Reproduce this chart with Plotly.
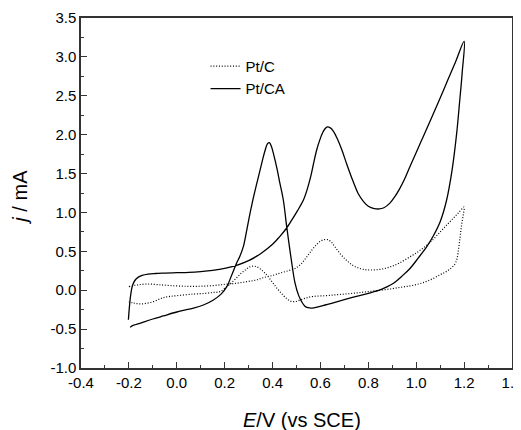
import plotly.graph_objects as go

# Pt/CA (solid) - forward then reverse scan
ptca_E = [-0.202, -0.198, -0.192, -0.185, -0.175, -0.162, -0.145, -0.12, -0.09, -0.05, 0.0, 0.05, 0.10, 0.15, 0.20, 0.25, 0.30, 0.35, 0.40, 0.43, 0.459, 0.48, 0.50, 0.515, 0.529, 0.545, 0.56, 0.572, 0.584, 0.597, 0.61, 0.62, 0.629, 0.64, 0.655, 0.67, 0.69, 0.71, 0.735, 0.758, 0.78, 0.80, 0.825, 0.845, 0.865, 0.89, 0.91, 0.93, 0.95, 0.974, 1.0, 1.03, 1.06, 1.10, 1.13, 1.165, 1.20,
          1.192, 1.18, 1.169, 1.15, 1.127, 1.10, 1.07, 1.044, 1.01, 0.974, 0.94, 0.905, 0.875, 0.849, 0.80, 0.75, 0.696, 0.65, 0.62, 0.59, 0.564, 0.548, 0.535, 0.522, 0.508, 0.494, 0.477, 0.459, 0.445, 0.431, 0.418, 0.405, 0.395, 0.387, 0.379, 0.369, 0.357, 0.345, 0.334, 0.317, 0.306, 0.292, 0.278, 0.264, 0.25, 0.23, 0.209, 0.185, 0.153, 0.111, 0.07, 0.041, 0.0, -0.056, -0.10, -0.154, -0.18, -0.195]
ptca_j = [-0.38, -0.22, -0.05, 0.06, 0.125, 0.165, 0.19, 0.207, 0.215, 0.22, 0.225, 0.23, 0.24, 0.255, 0.28, 0.32, 0.38, 0.47, 0.59, 0.69, 0.80, 0.90, 1.00, 1.08, 1.16, 1.30, 1.47, 1.64, 1.80, 1.93, 2.03, 2.08, 2.10, 2.09, 2.04, 1.95, 1.80, 1.62, 1.41, 1.24, 1.14, 1.08, 1.05, 1.045, 1.06, 1.12, 1.20, 1.30, 1.42, 1.59, 1.77, 1.98, 2.19, 2.47, 2.69, 2.94, 3.20,
          2.80, 2.38, 2.02, 1.55, 1.16, 0.88, 0.69, 0.56, 0.42, 0.28, 0.18, 0.09, 0.04, 0.004, -0.04, -0.08, -0.125, -0.165, -0.19, -0.215, -0.23, -0.225, -0.205, -0.15, -0.06, 0.09, 0.42, 0.82, 1.16, 1.37, 1.57, 1.74, 1.85, 1.897, 1.885, 1.80, 1.66, 1.51, 1.37, 1.15, 0.99, 0.77, 0.56, 0.44, 0.35, 0.20, 0.046, -0.05, -0.125, -0.19, -0.23, -0.25, -0.28, -0.33, -0.37, -0.425, -0.45, -0.476]

# Pt/C (dotted) - forward then reverse scan
ptc_E = [-0.200, -0.18, -0.16, -0.126, -0.08, -0.028, 0.05, 0.13, 0.20, 0.25, 0.292, 0.33, 0.36, 0.40, 0.431, 0.465, 0.494, 0.52, 0.543, 0.565, 0.585, 0.60, 0.615, 0.63, 0.645, 0.66, 0.685, 0.71, 0.735, 0.76, 0.785, 0.81, 0.84, 0.87, 0.90, 0.93, 0.974, 1.01, 1.04, 1.07, 1.10, 1.125, 1.15, 1.175, 1.20,
         1.197, 1.19, 1.185, 1.18, 1.175, 1.17, 1.16, 1.14, 1.12, 1.10, 1.07, 1.04, 1.01, 0.974, 0.94, 0.90, 0.85, 0.793, 0.75, 0.70, 0.66, 0.62, 0.57, 0.545, 0.52, 0.494, 0.475, 0.46, 0.44, 0.42, 0.40, 0.38, 0.365, 0.35, 0.335, 0.32, 0.305, 0.29, 0.27, 0.25, 0.23, 0.209, 0.18, 0.15, 0.12, 0.069, 0.0, -0.028, -0.05, -0.07, -0.098, -0.13, -0.154, -0.18, -0.200]
ptc_j = [0.046, 0.06, 0.07, 0.08, 0.072, 0.06, 0.05, 0.055, 0.075, 0.09, 0.11, 0.13, 0.16, 0.19, 0.22, 0.25, 0.28, 0.34, 0.43, 0.52, 0.59, 0.63, 0.65, 0.65, 0.62, 0.56, 0.46, 0.38, 0.32, 0.285, 0.265, 0.26, 0.265, 0.28, 0.31, 0.35, 0.43, 0.50, 0.57, 0.65, 0.75, 0.83, 0.91, 0.99, 1.07,
         0.98, 0.85, 0.73, 0.60, 0.49, 0.40, 0.33, 0.27, 0.23, 0.20, 0.15, 0.11, 0.08, 0.055, 0.04, 0.02, 0.0, -0.02, -0.035, -0.05, -0.06, -0.07, -0.08, -0.095, -0.12, -0.147, -0.14, -0.11, -0.05, 0.02, 0.10, 0.18, 0.23, 0.27, 0.30, 0.31, 0.30, 0.27, 0.22, 0.16, 0.10, 0.046, -0.018, -0.03, -0.04, -0.05, -0.07, -0.08, -0.09, -0.11, -0.147, -0.17, -0.176, -0.165, -0.147]

series_names = ["Pt/C", "Pt/CA"]
x_ticks = [-0.4, -0.2, 0.0, 0.2, 0.4, 0.6, 0.8, 1.0, 1.2, 1.4]
y_ticks = [-1.0, -0.5, 0.0, 0.5, 1.0, 1.5, 2.0, 2.5, 3.0, 3.5]
x_title = "<i>E</i>/V (vs SCE)"
y_title = "<i>j</i> / mA"

FONT = "Liberation Sans, Arial, sans-serif"

fig = go.Figure()
fig.add_trace(go.Scatter(x=ptc_E, y=ptc_j, mode="lines", name=series_names[0],
                         line=dict(color="black", width=1.2, dash="1px,1.8px", shape="spline", smoothing=1.0)))
fig.add_trace(go.Scatter(x=ptca_E, y=ptca_j, mode="lines", name=series_names[1],
                         line=dict(color="black", width=1.3, shape="spline", smoothing=1.0)))

axis_common = dict(showline=True, linecolor="#333333", linewidth=1.5, mirror=True,
                   ticks="inside", ticklen=6, tickwidth=1.3, tickcolor="#333333",
                   showgrid=False, zeroline=False, ticklabeloverflow="allow",
                   tickfont=dict(family=FONT, size=15, color="black"))

fig.update_xaxes(range=[-0.4, 1.4], tickvals=x_ticks, ticktext=[f"{v:.1f}" for v in x_ticks],
                 minor=dict(ticks="inside", ticklen=3, dtick=0.1, tick0=-0.4, tickcolor="#333333", tickwidth=1.2),
                 **axis_common)
fig.update_yaxes(range=[-1.0, 3.5], tickvals=y_ticks, ticktext=[f"{v:.1f}" for v in y_ticks],
                 minor=dict(ticks="inside", ticklen=3, dtick=0.25, tick0=-1.0, tickcolor="#333333", tickwidth=1.2),
                 **axis_common)

fig.add_annotation(text=x_title, xref="paper", yref="paper", x=0.513, y=-0.149,
                   xanchor="center", yanchor="middle", showarrow=False,
                   font=dict(family=FONT, size=20, color="black"))
fig.add_annotation(text=y_title, xref="paper", yref="paper", x=-0.142, y=0.489,
                   xanchor="center", yanchor="middle", showarrow=False, textangle=-90,
                   font=dict(family=FONT, size=20, color="black"))

# The page body adds an 8px offset, so the figure is 8px smaller and margins shifted.
fig.update_layout(
    width=513, height=422,
    margin=dict(l=73, r=9, t=10, b=62, autoexpand=False),
    paper_bgcolor="white", plot_bgcolor="white",
    showlegend=True,
    legend=dict(x=0.289, y=0.909, xanchor="left", yanchor="top", bgcolor="rgba(0,0,0,0)",
                font=dict(family=FONT, size=15, color="black"), tracegroupgap=0, itemwidth=30),
)

fig.write_html("out.html")
